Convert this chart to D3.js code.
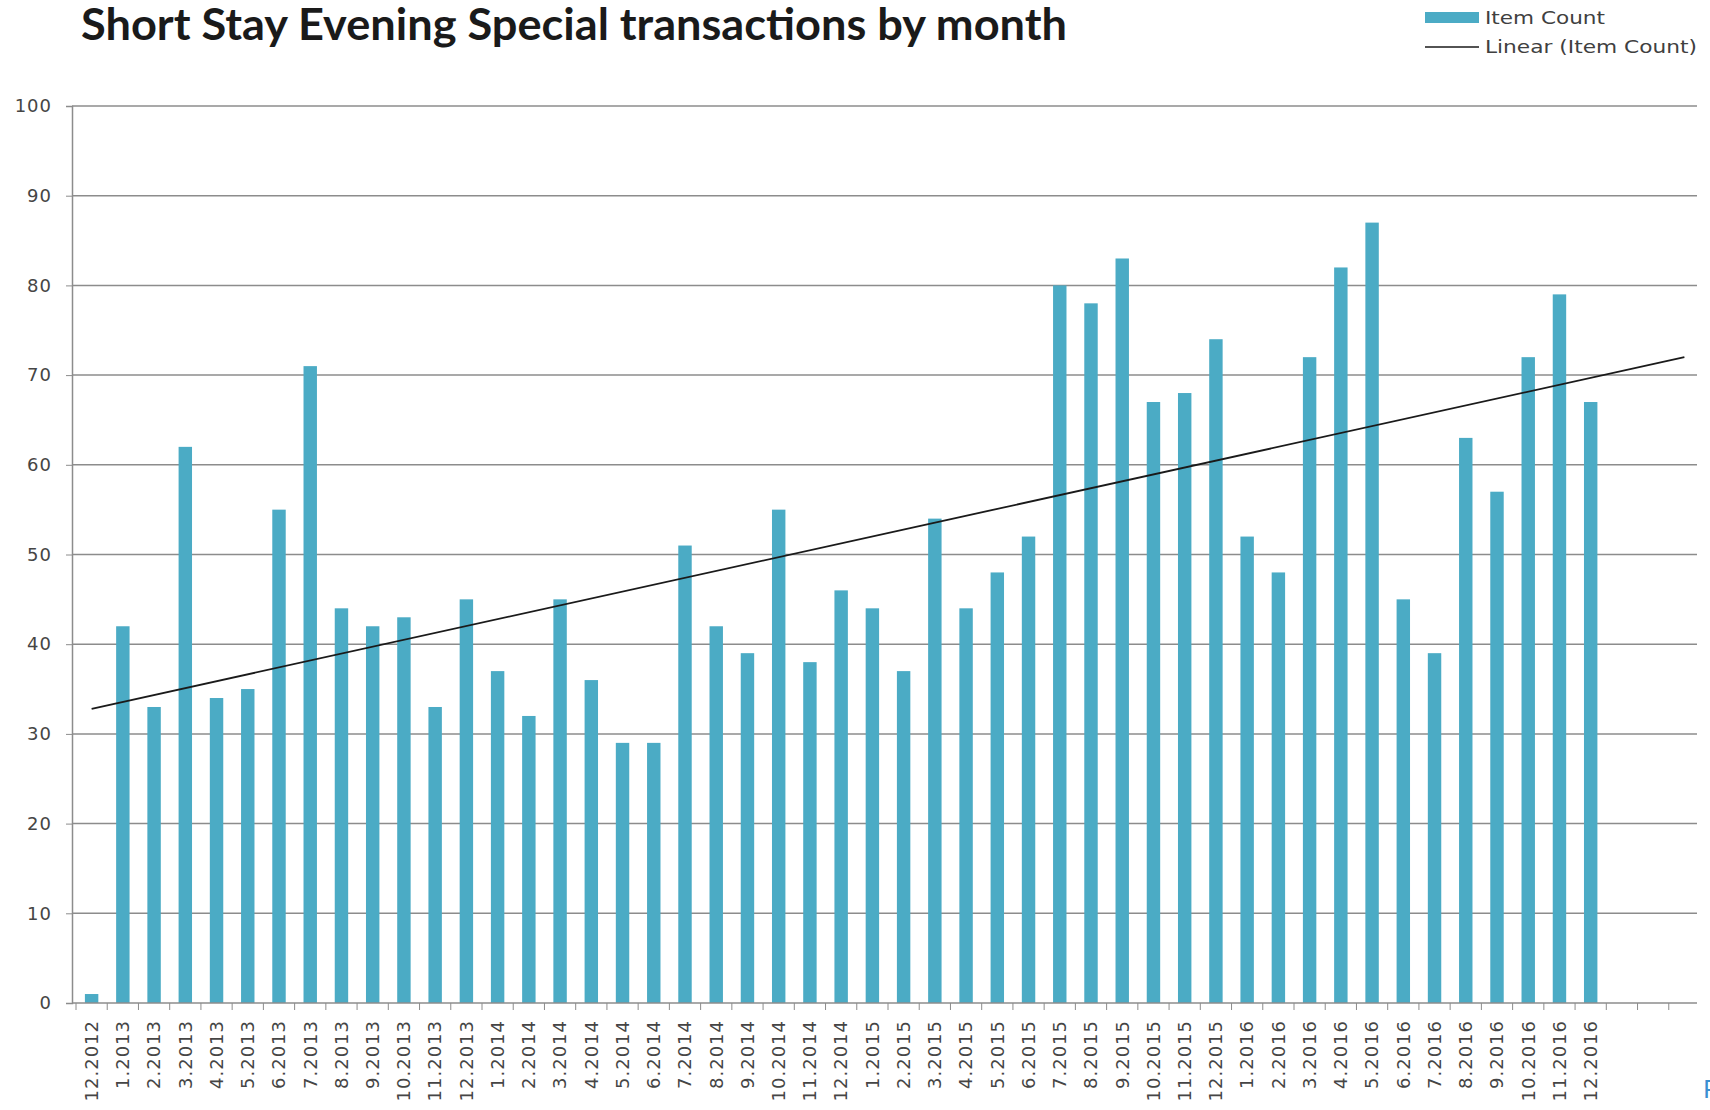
<!DOCTYPE html>
<html>
<head>
<meta charset="utf-8">
<script src="https://cdn.jsdelivr.net/npm/d3@7"></script>
<style>
  body { margin: 0; background: #fff; }
  svg { display: block; }
</style>
</head>
<body>
<script>
/*global d3*/

// month labels, one per bar
var months = ["12.2012",
    "1.2013", "2.2013", "3.2013", "4.2013", "5.2013", "6.2013", "7.2013", "8.2013", "9.2013", "10.2013", "11.2013", "12.2013",
    "1.2014", "2.2014", "3.2014", "4.2014", "5.2014", "6.2014", "7.2014", "8.2014", "9.2014", "10.2014", "11.2014", "12.2014",
    "1.2015", "2.2015", "3.2015", "4.2015", "5.2015", "6.2015", "7.2015", "8.2015", "9.2015", "10.2015", "11.2015", "12.2015",
    "1.2016", "2.2016", "3.2016", "4.2016", "5.2016", "6.2016", "7.2016", "8.2016", "9.2016", "10.2016", "11.2016", "12.2016"];

var itemCount = [1,
    42, 33, 62, 34, 35, 55, 71, 44, 42, 43, 33, 45,
    37, 32, 45, 36, 29, 29, 51, 42, 39, 55, 38, 46,
    44, 37, 54, 44, 48, 52, 80, 78, 83, 67, 68, 74,
    52, 48, 72, 82, 87, 45, 39, 63, 57, 72, 79, 67];

var forecastPeriods = 3;   // trendline runs 3 empty slots past the data
var yTicks = [0, 10, 20, 30, 40, 50, 60, 70, 80, 90, 100];

var W = 1710, H = 1110;
var m = { left: 72, right: 1697, top: 106, bottom: 1003 };

var svg = d3.select("body").append("svg")
    .attr("width", W)
    .attr("height", H);

var slots = d3.range(months.length + forecastPeriods);

var x = d3.scaleBand()
    .domain(slots)
    .range([m.left + 4, m.right + 3])
    .paddingInner(0.57)
    .paddingOuter(0.285);

var y = d3.scaleLinear()
    .domain([0, 100])
    .range([m.bottom, m.top]);

var cx = function(i) { return x(i) + x.bandwidth() / 2; };
var slotEdge = function(i) { return x(0) - x.step() * x.paddingOuter() + i * x.step(); };

// gridlines
svg.append("g")
    .selectAll("line")
    .data(yTicks.filter(function(d) { return d > 0; }))
    .enter().append("line")
    .attr("x1", m.left).attr("x2", m.right)
    .attr("y1", function(d) { return y(d); })
    .attr("y2", function(d) { return y(d); })
    .attr("stroke", "#8c8c8c")
    .attr("stroke-width", 1.5);

// y axis
var yAxis = svg.append("g")
    .attr("transform", "translate(" + m.left + ",0)")
    .call(d3.axisLeft(y).tickValues(yTicks).tickSize(6).tickPadding(14));
yAxis.select(".domain").attr("stroke", "#8c8c8c").attr("stroke-width", 1.5);
yAxis.selectAll(".tick line").attr("stroke", "#8c8c8c");
yAxis.selectAll("text")
    .attr("fill", "#454545")
    .style("font-family", "'DejaVu Sans', sans-serif")
    .style("font-size", "18px")
    .style("letter-spacing", "1px");

// bars
svg.append("g")
    .selectAll("rect")
    .data(itemCount)
    .enter().append("rect")
    .attr("x", function(d, i) { return x(i); })
    .attr("y", function(d) { return y(d); })
    .attr("width", x.bandwidth())
    .attr("height", function(d) { return y(0) - y(d); })
    .attr("fill", "#4babc5");

// x axis baseline and boundary ticks
svg.append("line")
    .attr("x1", m.left).attr("x2", m.right)
    .attr("y1", m.bottom).attr("y2", m.bottom)
    .attr("stroke", "#8c8c8c")
    .attr("stroke-width", 1.5);

svg.append("g")
    .selectAll("line")
    .data(d3.range(slots.length))
    .enter().append("line")
    .attr("x1", function(i) { return slotEdge(i); })
    .attr("x2", function(i) { return slotEdge(i); })
    .attr("y1", m.bottom).attr("y2", m.bottom + 7)
    .attr("stroke", "#8c8c8c");

// month labels
svg.append("g")
    .selectAll("text")
    .data(months)
    .enter().append("text")
    .attr("transform", function(d, i) { return "translate(" + cx(i) + "," + (m.bottom + 17) + ") rotate(-90)"; })
    .attr("dy", "0.35em")
    .attr("text-anchor", "end")
    .attr("fill", "#454545")
    .style("font-family", "'DejaVu Sans', sans-serif")
    .style("font-size", "18px")
    .style("letter-spacing", "1px")
    .text(function(d) { return d; });

// linear trendline (least squares on the bars)
var n = itemCount.length;
var mx = d3.mean(itemCount, function(d, i) { return i; });
var my = d3.mean(itemCount);
var sxy = d3.sum(itemCount, function(d, i) { return (i - mx) * (d - my); });
var sxx = d3.sum(itemCount, function(d, i) { return (i - mx) * (i - mx); });
var slope = sxy / sxx, icpt = my - slope * mx;

var trendIdx = [0, n - 1 + forecastPeriods];
svg.append("path")
    .datum(trendIdx)
    .attr("d", d3.line()
        .x(function(i) { return cx(i); })
        .y(function(i) { return y(icpt + slope * i); }))
    .attr("fill", "none")
    .attr("stroke", "#1a1a1a")
    .attr("stroke-width", 1.8);

// title
svg.append("text")
    .attr("x", 81).attr("y", 40)
    .attr("textLength", 986)
    .attr("lengthAdjust", "spacingAndGlyphs")
    .attr("fill", "#1a1a1a")
    .style("font-family", "Lato, sans-serif")
    .style("font-weight", "bold")
    .style("font-size", "43px")
    .text("Short Stay Evening Special transactions by month");

// legend
var lg = svg.append("g").attr("transform", "translate(1425,0)");
lg.append("rect")
    .attr("x", 0).attr("y", 12)
    .attr("width", 54).attr("height", 11)
    .attr("fill", "#4babc5");
lg.append("line")
    .attr("x1", 0).attr("x2", 54)
    .attr("y1", 47).attr("y2", 47)
    .attr("stroke", "#1a1a1a")
    .attr("stroke-width", 1.5);
lg.selectAll("text")
    .data([["Item Count", 18, 120], ["Linear (Item Count)", 47, 212]])
    .enter().append("text")
    .attr("x", 60)
    .attr("y", function(d) { return d[1]; })
    .attr("dy", "0.35em")
    .attr("textLength", function(d) { return d[2]; })
    .attr("lengthAdjust", "spacingAndGlyphs")
    .attr("fill", "#404040")
    .style("font-family", "'DejaVu Sans', sans-serif")
    .style("font-size", "17px")
    .text(function(d) { return d[0]; });

// clipped fragment at bottom right edge
svg.append("text")
    .attr("x", 1703).attr("y", 1098)
    .attr("fill", "#3b8fd1")
    .style("font-family", "'DejaVu Sans', sans-serif")
    .style("font-size", "24px")
    .text("P");
</script>
</body>
</html>
